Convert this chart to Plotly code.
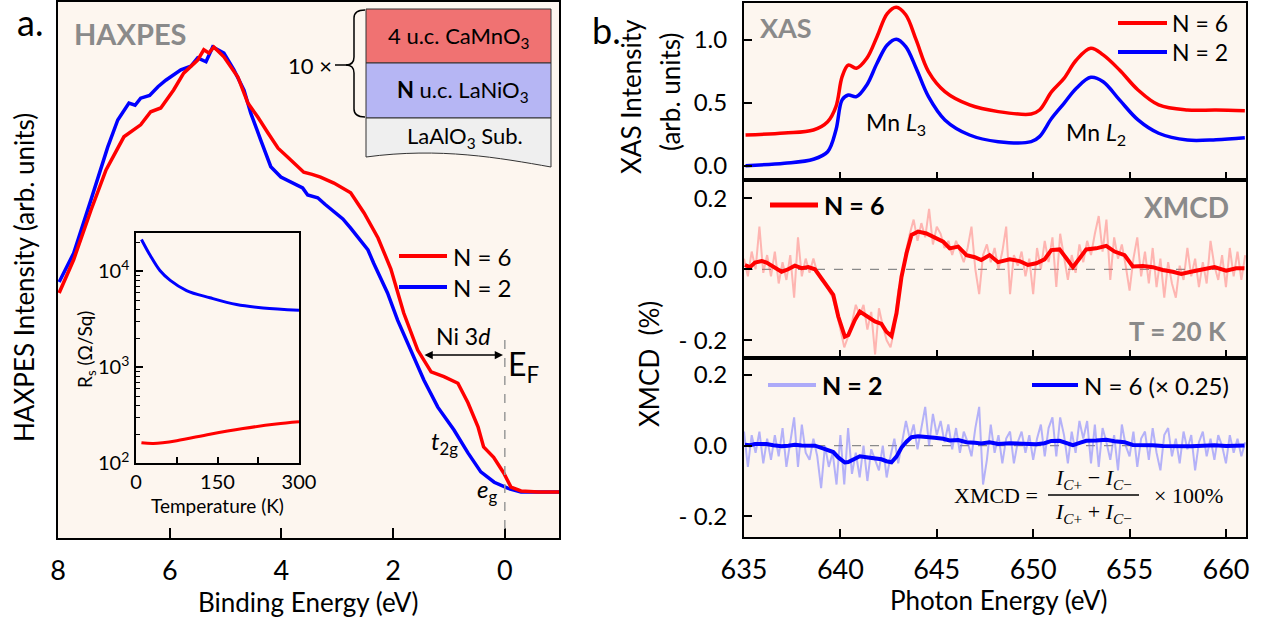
import plotly.graph_objects as go

W, H = 1265, 623
def px(x): return x / W
def py(y): return 1 - y / H

FONT = "Lato"
SERIF = "Liberation Serif"
GRAY = "#8a8a8a"
RED = "#ff0000"
BLUE = "#0000ff"

# ---------------- Panel a: HAXPES ----------------
hax_E_n2 = [7.98, 7.72, 7.41, 7.11, 6.93, 6.73, 6.62, 6.52, 6.36, 6.21, 6.07, 5.95, 5.80, 5.62, 5.50, 5.35, 5.23, 5.03,
            4.85, 4.67, 4.55, 4.37, 4.19, 4.01, 3.78, 3.62, 3.53, 3.35, 3.22, 3.06, 2.90, 2.76, 2.60, 2.45, 2.35, 2.10,
            1.92, 1.68, 1.45, 1.20, 0.91, 0.66, 0.43, 0.19, -0.05, -0.29, -0.60, -0.97]
hax_I_n2 = [0.487, 0.540, 0.638, 0.735, 0.785, 0.816, 0.812, 0.825, 0.830, 0.846, 0.858, 0.866, 0.877, 0.884, 0.899, 0.892, 0.919, 0.908,
            0.877, 0.840, 0.798, 0.748, 0.699, 0.680, 0.669, 0.660, 0.647, 0.642, 0.630, 0.616, 0.603, 0.586, 0.566, 0.546, 0.522, 0.467,
            0.417, 0.362, 0.307, 0.257, 0.215, 0.173, 0.138, 0.119, 0.108, 0.101, 0.101, 0.101]
hax_E_n6 = [7.98, 7.72, 7.41, 7.14, 6.82, 6.52, 6.34, 6.16, 5.93, 5.75, 5.50, 5.39, 5.30, 5.21, 5.03,
            4.78, 4.60, 4.42, 4.24, 4.06, 3.89, 3.60, 3.45, 3.30, 3.06, 2.76, 2.52, 2.27, 2.04, 1.81,
            1.56, 1.32, 1.09, 0.84, 0.66, 0.48, 0.38, 0.20, 0.02, -0.11, -0.29, -0.60, -0.97]
hax_I_n6 = [0.467, 0.528, 0.619, 0.693, 0.754, 0.776, 0.800, 0.807, 0.840, 0.871, 0.895, 0.914, 0.908, 0.919, 0.901,
            0.864, 0.816, 0.790, 0.761, 0.733, 0.717, 0.689, 0.685, 0.680, 0.669, 0.651, 0.614, 0.568, 0.511, 0.430,
            0.362, 0.322, 0.313, 0.301, 0.265, 0.221, 0.184, 0.165, 0.136, 0.110, 0.103, 0.101, 0.101]

# Inset: sheet resistance
rs_T_n2 = [10, 26, 44, 63, 93, 136, 185, 234, 300]
rs_R_n2 = [21500, 14700, 10200, 8050, 6300, 5300, 4500, 4150, 3930]
rs_T_n6 = [10, 32, 75, 136, 197, 258, 300]
rs_R_n6 = [163, 160, 171, 200, 229, 255, 269]

# ---------------- Panel b: XAS ----------------
xas_E = [635.08, 637.10, 638.60, 639.34, 639.77, 640.09, 640.41, 640.83, 641.37, 641.90, 642.43, 642.90,
         643.39, 643.93, 644.57, 645.42, 646.70, 648.19, 649.90, 650.33, 650.96, 651.60, 652.24, 652.99,
         653.63, 654.48, 655.44, 656.51, 658.00, 659.49, 660.98]
xas_n6 = [0.244, 0.260, 0.284, 0.350, 0.470, 0.708, 0.800, 0.775, 0.854, 1.026, 1.210, 1.260,
          1.200, 1.000, 0.748, 0.589, 0.483, 0.430, 0.411, 0.443, 0.589, 0.695, 0.841, 0.934,
          0.881, 0.761, 0.602, 0.483, 0.443, 0.443, 0.437]
xas_n2 = [0.000, 0.019, 0.051, 0.111, 0.284, 0.523, 0.562, 0.549, 0.642, 0.815, 0.960, 1.006,
          0.947, 0.775, 0.549, 0.364, 0.244, 0.191, 0.191, 0.231, 0.377, 0.496, 0.616, 0.703,
          0.668, 0.523, 0.364, 0.258, 0.204, 0.207, 0.223]

# ---------------- XMCD ----------------
xmcd_sm_E = [635.05, 635.31, 635.57, 635.92, 636.17, 636.52, 636.95, 637.29, 637.64, 637.99, 638.33, 638.68,
             639.02, 639.37, 639.63, 639.89, 640.23, 640.41, 640.75, 641.01, 641.44, 641.79, 642.13, 642.39,
             642.65, 642.91, 643.17, 643.43, 643.69, 644.03, 644.46, 644.89, 645.33, 645.67, 646.11, 646.54,
             646.97, 647.31, 647.74, 648.18, 648.78, 649.30, 649.73, 650.16, 650.59, 650.94, 651.37, 651.72,
             652.06, 652.41, 652.75, 653.27, 653.79, 654.22, 654.74, 655.17, 655.69, 656.21, 656.72, 657.24,
             657.68, 658.19, 658.80, 659.40, 660.01, 660.53, 660.96]
xmcd_sm_n6 = [0.012, 0.006, 0.019, 0.023, 0.019, 0.006, -0.007, 0.000, 0.010, 0.003, 0.006, 0.000,
              -0.025, -0.049, -0.072, -0.133, -0.190, -0.185, -0.143, -0.119, -0.133, -0.147, -0.154, -0.176,
              -0.188, -0.124, -0.021, 0.045, 0.097, 0.106, 0.101, 0.090, 0.078, 0.059, 0.064, 0.040,
              0.034, 0.026, 0.040, 0.020, 0.028, 0.023, 0.012, 0.017, 0.028, 0.054, 0.056, 0.031,
              0.006, 0.031, 0.056, 0.059, 0.066, 0.050, 0.040, 0.008, 0.009, 0.006, -0.002, -0.007,
              -0.013, -0.007, 0.000, 0.006, -0.004, 0.003, 0.003]
scale_n6 = 0.25

xmcd_raw_E = [round(635 + 0.2 * i, 1) for i in range(131)]
xmcd_raw_n6 = [0.03, -0.02, 0.05, 0.00, 0.12, -0.01, 0.04, -0.02, 0.05, -0.04,
               0.02, -0.03, 0.04, -0.08, 0.09, -0.02, 0.03, -0.01, 0.03, -0.01,
               -0.03, -0.04, -0.06, -0.08, -0.12, -0.17, -0.22, -0.19, -0.15, -0.10,
               -0.13, -0.10, -0.17, -0.12, -0.24, -0.11, -0.16, -0.20, -0.22, -0.17,
               -0.06, -0.02, 0.05, 0.10, 0.14, 0.08, 0.13, 0.09, 0.17, 0.07,
               0.12, 0.10, 0.06, 0.08, 0.04, 0.08, 0.05, 0.02, 0.06, 0.12,
               0.00, -0.07, 0.04, 0.07, 0.02, 0.06, 0.00, 0.05, 0.12, -0.07,
               0.04, 0.01, 0.05, -0.02, 0.03, -0.07, 0.06, 0.00, 0.08, 0.02,
               0.09, -0.05, 0.10, 0.03, -0.03, 0.04, -0.01, 0.07, 0.02, 0.08,
               0.04, 0.10, 0.15, 0.05, 0.14, -0.03, 0.09, 0.03, 0.07, 0.01,
               -0.06, 0.03, 0.09, -0.02, 0.05, -0.04, 0.06, -0.05, 0.03, -0.08,
               0.02, -0.04, -0.08, 0.01, -0.03, 0.06, -0.02, 0.03, -0.05, 0.02,
               -0.04, 0.08, 0.01, -0.03, 0.04, -0.05, 0.06, -0.02, 0.05, -0.03,
               0.04]
xmcd_raw_n2 = [0.04, -0.06, 0.03, -0.02, 0.04, -0.05, 0.02, -0.04, 0.03, -0.03,
               0.05, -0.06, 0.01, 0.08, -0.06, 0.06, -0.02, -0.04, 0.02, -0.03,
               -0.12, 0.00, -0.06, -0.02, -0.11, 0.03, -0.11, 0.05, -0.08, -0.02,
               -0.09, 0.00, -0.10, -0.01, -0.04, -0.07, 0.00, -0.09, -0.03, 0.02,
               -0.05, 0.01, 0.07, 0.02, 0.06, -0.01, 0.05, 0.11, 0.00, 0.09,
               0.03, 0.07, 0.01, 0.06, -0.01, 0.05, -0.02, 0.04, 0.01, -0.03,
               0.05, 0.11, -0.11, -0.04, 0.06, -0.02, 0.03, -0.05, 0.02, 0.04,
               -0.05, 0.01, 0.04, -0.02, 0.03, -0.04, 0.02, 0.06, -0.03, 0.05,
               0.08, -0.03, 0.08, 0.03, -0.05, 0.04, -0.02, 0.07, 0.02, 0.07,
               -0.05, 0.06, -0.06, 0.05, 0.01, -0.04, 0.03, -0.07, 0.06, 0.00,
               -0.03, 0.04, -0.06, 0.02, 0.04, -0.04, 0.05, -0.02, -0.07, 0.03,
               0.05, -0.03, 0.02, -0.05, 0.04, -0.01, 0.03, -0.07, 0.01, 0.04,
               -0.03, 0.02, -0.04, 0.03, 0.00, -0.05, 0.03, -0.02, 0.02, -0.03,
               0.01]

fig = go.Figure()

# HAXPES
fig.add_trace(go.Scatter(x=hax_E_n2, y=hax_I_n2, mode="lines", line=dict(color=BLUE, width=3.5),
                         xaxis="x", yaxis="y", showlegend=False))
fig.add_trace(go.Scatter(x=hax_E_n6, y=hax_I_n6, mode="lines", line=dict(color=RED, width=3.5),
                         xaxis="x", yaxis="y", showlegend=False))
# Inset
fig.add_trace(go.Scatter(x=rs_T_n2, y=rs_R_n2, mode="lines", line=dict(color=BLUE, width=3, shape="spline"),
                         xaxis="x5", yaxis="y5", showlegend=False))
fig.add_trace(go.Scatter(x=rs_T_n6, y=rs_R_n6, mode="lines", line=dict(color=RED, width=3, shape="spline"),
                         xaxis="x5", yaxis="y5", showlegend=False))
# XAS
fig.add_trace(go.Scatter(x=xas_E, y=xas_n6, mode="lines", line=dict(color=RED, width=3.5, shape="spline"),
                         xaxis="x2", yaxis="y2", showlegend=False))
fig.add_trace(go.Scatter(x=xas_E, y=xas_n2, mode="lines", line=dict(color=BLUE, width=3.5, shape="spline"),
                         xaxis="x2", yaxis="y2", showlegend=False))
# XMCD N=6
fig.add_trace(go.Scatter(x=xmcd_raw_E, y=xmcd_raw_n6, mode="lines", line=dict(color="rgba(255,90,90,0.42)", width=2),
                         xaxis="x3", yaxis="y3", showlegend=False))
fig.add_trace(go.Scatter(x=xmcd_sm_E, y=xmcd_sm_n6, mode="lines", line=dict(color=RED, width=4),
                         xaxis="x3", yaxis="y3", showlegend=False))
# XMCD N=2
fig.add_trace(go.Scatter(x=xmcd_raw_E, y=xmcd_raw_n2, mode="lines", line=dict(color="rgba(120,120,255,0.55)", width=2),
                         xaxis="x4", yaxis="y4", showlegend=False))
fig.add_trace(go.Scatter(x=xmcd_sm_E, y=[v * scale_n6 for v in xmcd_sm_n6], mode="lines",
                         line=dict(color=BLUE, width=4), xaxis="x4", yaxis="y4", showlegend=False))

axline = dict(showline=True, linecolor="black", linewidth=2, mirror=True, showgrid=False, zeroline=False,
              automargin=False)
tickc = dict(tickcolor="black", tickwidth=2)

bx = [px(744), px(1246)]
xr_b = [635, 661.04]
b_ticks = [635, 640, 645, 650, 655, 660]

fig.update_layout(
    width=W, height=H,
    margin=dict(l=0, r=0, t=0, b=0, autoexpand=False),
    paper_bgcolor="white",
    plot_bgcolor="#fdf6ef",
    font=dict(family=FONT, color="black"),
    xaxis=dict(domain=[px(58), px(559)], range=[8, -0.97], anchor="y", ticks="inside", ticklen=10,
               tickvals=[8, 6, 4, 2, 0], tickfont=dict(size=27), ticklabelstandoff=8, **axline, **tickc),
    yaxis=dict(domain=[py(538), py(2)], range=[0.0165, 1.0018], anchor="x", showticklabels=False,
               ticks="", **axline),
    xaxis2=dict(domain=bx, range=xr_b, anchor="y2", ticks="inside", ticklen=8, tickvals=b_ticks,
                showticklabels=False, **axline, **tickc),
    yaxis2=dict(domain=[py(180), py(3)], range=[-0.114, 1.294], anchor="x2", ticks="inside", ticklen=8,
                tickvals=[0, 0.5, 1.0], ticktext=["0.0", "0.5", "1.0"], tickfont=dict(size=24),
                ticklabelstandoff=10, **axline, **tickc),
    xaxis3=dict(domain=bx, range=xr_b, anchor="y3", ticks="inside", ticklen=8, tickvals=b_ticks,
                showticklabels=False, **axline, **tickc),
    yaxis3=dict(domain=[py(358), py(180)], range=[-0.2499, 0.2515], anchor="x3", ticks="inside", ticklen=8,
                tickvals=[-0.2, 0, 0.2], ticktext=["- 0.2", "0.0", "0.2"], tickfont=dict(size=24),
                ticklabelstandoff=10, **axline, **tickc),
    xaxis4=dict(domain=bx, range=xr_b, anchor="y4", ticks="inside", ticklen=8, tickvals=b_ticks,
                tickfont=dict(size=27), ticklabelstandoff=8, **axline, **tickc),
    yaxis4=dict(domain=[py(537), py(358)], range=[-0.2586, 0.2484], anchor="x4", ticks="inside", ticklen=8,
                tickvals=[-0.2, 0, 0.2], ticktext=["- 0.2", "0.0", "0.2"], tickfont=dict(size=24),
                ticklabelstandoff=10, **axline, **tickc),
    xaxis5=dict(domain=[px(136), px(299)], range=[0, 300], anchor="y5", ticks="inside", ticklen=6,
                tickvals=[0, 75, 150, 225, 300], ticktext=["0", "", "150", "", "300"],
                tickfont=dict(size=20), ticklabelstandoff=0, automargin=False,
                showline=True, linecolor="black", linewidth=1.5, mirror=True, showgrid=False, zeroline=False,
                tickcolor="black", tickwidth=1.5),
    yaxis5=dict(type="log", domain=[py(463), py(233)], range=[2, 4.4], anchor="x5", ticks="inside", ticklen=7,
                tickvals=[100, 1000, 10000], ticktext=["10<sup>2</sup>", "10<sup>3</sup>", "10<sup>4</sup>"],
                tickfont=dict(size=20), ticklabelstandoff=1, automargin=False,
                minor=dict(ticks="inside", ticklen=4, tickcolor="black", tickwidth=1,
                           tickvals=[200, 300, 400, 500, 600, 700, 800, 900,
                                     2000, 3000, 4000, 5000, 6000, 7000, 8000, 9000, 20000]),
                showline=True, linecolor="black", linewidth=1.5, mirror=True, showgrid=False, zeroline=False,
                tickcolor="black", tickwidth=1.5),
)

shapes = []
# E_F dashed line
shapes.append(dict(type="line", xref="x", yref="paper", x0=0, x1=0, y0=py(340), y1=py(538),
                   line=dict(color="#9a9a9a", width=1.5, dash="dash")))
# zero lines in XMCD panels
for xa, ya in (("x3", "y3"), ("x4", "y4")):
    shapes.append(dict(type="line", xref=xa + " domain", yref=ya, x0=0, x1=1, y0=0, y1=0,
                       line=dict(color="#8a8a8a", width=1.2, dash="dash"), layer="below"))

# schematic
shapes.append(dict(type="rect", xref="paper", yref="paper", x0=px(366), x1=px(551), y0=py(63), y1=py(9),
                   fillcolor="#f07272", line=dict(color="#333", width=1)))
shapes.append(dict(type="rect", xref="paper", yref="paper", x0=px(366), x1=px(551), y0=py(118), y1=py(63),
                   fillcolor="#b6b6f4", line=dict(color="#333", width=1)))

def pth(pts):
    s = ""
    for cmd, coords in pts:
        s += cmd + " " + " ".join(f"{px(a):.5f},{py(b):.5f}" for a, b in coords) + " "
    return s.strip()

shapes.append(dict(type="path", xref="paper", yref="paper",
                   path=pth([("M", [(366, 118)]), ("L", [(551, 118)]), ("L", [(551, 167)]),
                             ("C", [(500, 158), (440, 147), (366, 157)]), ("Z", [])]),
                   fillcolor="#efefef", line=dict(color="#333", width=1)))
# brace
shapes.append(dict(type="path", xref="paper", yref="paper",
                   path=pth([("M", [(365, 10)]), ("Q", [(354, 10), (354, 18)]), ("L", [(354, 57)]),
                             ("Q", [(354, 65), (346, 65)]), ("Q", [(354, 65), (354, 73)]), ("L", [(354, 109)]),
                             ("Q", [(354, 117), (365, 117)])]),
                   line=dict(color="black", width=1.5)))
shapes.append(dict(type="line", xref="paper", yref="paper", x0=px(335), x1=px(347), y0=py(65), y1=py(65),
                   line=dict(color="black", width=1.5)))

# legend sample lines
def seg(x0, x1, y, color, w=4):
    return dict(type="line", xref="paper", yref="paper", x0=px(x0), x1=px(x1), y0=py(y), y1=py(y),
                line=dict(color=color, width=w))
shapes += [seg(399, 447, 256, RED), seg(399, 447, 287, BLUE),
           seg(1118, 1167, 23, RED), seg(1118, 1167, 52, BLUE),
           seg(770, 818, 205, RED, 5),
           seg(768, 816, 385, "rgba(120,120,255,0.6)", 4), seg(1032, 1078, 385, BLUE, 4)]
# formula fraction bar
shapes.append(dict(type="line", xref="paper", yref="paper", x0=px(1048), x1=px(1139), y0=py(495), y1=py(495),
                   line=dict(color="black", width=1.3)))
fig.update_layout(shapes=shapes)

ann = []
def A(x, y, text, size, xanchor="center", angle=0, color="black", family=FONT, yanchor="middle"):
    ann.append(dict(x=px(x), y=py(y), xref="paper", yref="paper", text=text, showarrow=False,
                    xanchor=xanchor, yanchor=yanchor, textangle=angle,
                    font=dict(size=size, color=color, family=family)))

A(30, 22, "a.", 36)
A(606, 30, "b.", 36)
A(130, 33, "<b>HAXPES</b>", 29, color=GRAY)
A(786, 27, "<b>XAS</b>", 27, color=GRAY)
A(1186, 207, "<b>XMCD</b>", 28, color=GRAY)
A(1178, 331, "<b>T = 20 K</b>", 26, color=GRAY)

A(459, 37, "4 u.c. CaMnO<sub>3</sub>", 22)
A(463, 91, "<b>N</b> u.c. LaNiO<sub>3</sub>", 22)
A(465, 137, "LaAlO<sub>3</sub> Sub.", 22)
A(310, 65, "10 ×", 22)

A(451, 256, "N = 6", 24, xanchor="left")
A(451, 287, "N = 2", 24, xanchor="left")
A(463, 336, "Ni 3<i>d</i>", 23)
A(523, 366, "E<sub>F</sub>", 32)
A(444, 442, "<i>t</i><sub>2g</sub>", 24)
A(487, 490, "<i>e</i><sub>g</sub>", 24)

# Ni 3d double arrow
ann.append(dict(x=px(503), y=py(355), xref="paper", yref="paper", ax=-80, ay=0, axref="pixel", ayref="pixel",
                text="", showarrow=True, arrowhead=2, arrowside="end+start", arrowsize=1.1, arrowwidth=1.5,
                arrowcolor="black"))

# inset titles
A(86, 350, "R<sub>s</sub> (Ω/Sq)", 19, angle=-90)
A(217, 505, "Temperature (K)", 19)

# axis titles
A(24, 278, "HAXPES Intensity (arb. units)", 26, angle=-90)
A(308, 602, "Binding Energy (eV)", 26)
A(998, 600, "Photon Energy (eV)", 26)
A(631, 97, "XAS Intensity", 26, angle=-90)
A(670, 92, "(arb. units)", 26, angle=-90)
A(649, 364, "XMCD\u00a0\u00a0(%)", 26, angle=-90)

# XAS labels and legend
A(896, 124, "Mn <i>L</i><sub>3</sub>", 23)
A(1096, 134, "Mn <i>L</i><sub>2</sub>", 23)
A(1170, 23, "N = 6", 23, xanchor="left")
A(1170, 52, "N = 2", 23, xanchor="left")

# XMCD legends
A(822, 205, "<b>N = 6</b>", 25, xanchor="left")
A(820, 385, "<b>N = 2</b>", 25, xanchor="left")
A(1082, 385, "N = 6 (× 0.25)", 24, xanchor="left")

# formula
A(996, 495, "XMCD =", 22, family=SERIF)
A(1093, 479, "<i>I</i><sub><i>C</i>+</sub> − <i>I</i><sub><i>C</i>−</sub>", 22, family=SERIF)
A(1093, 513, "<i>I</i><sub><i>C</i>+</sub> + <i>I</i><sub><i>C</i>−</sub>", 22, family=SERIF)
A(1188, 495, "× 100%", 22, family=SERIF)

fig.update_layout(annotations=ann)
fig.write_html("out.html", config={"displayModeBar": False},
               post_script="document.body.style.margin='0';document.body.style.padding='0';"
                           "document.documentElement.style.overflow='hidden';")
